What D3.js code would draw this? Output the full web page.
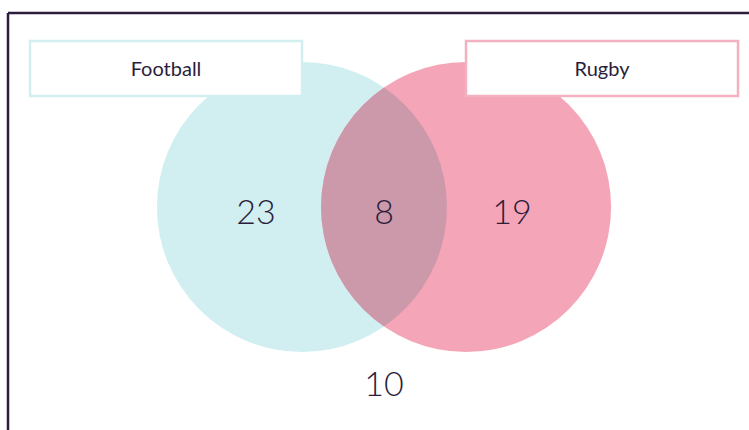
<!DOCTYPE html>
<html lang="en">
<head>
  <meta charset="utf-8">
  <title>Venn Diagram</title>
  <style>
    body { margin: 0; background: #fff; }
    svg { display: block; }
    text { font-family: 'Lato', 'Open Sans', sans-serif; fill: #2b1d3b; }
  </style>
</head>
<body>
  <div id="chart"></div>
  <script src="https://d3js.org/d3.v7.min.js"></script>
  <script>
    // Data
    var setNames = ["Football", "Rugby"];
    var setColors = ["#d1eff0", "#f4a5b7"];
    var boxColors = ["#d2eff0", "#f3b2c1"];
    var regionNames = ["Football only", "Both", "Rugby only", "Neither"];
    var regionCounts = [23, 8, 19, 10];
    var overlapColor = "#cc99aa";

    var width = 749, height = 430;

    var svg = d3.select("#chart").append("svg")
      .attr("width", width)
      .attr("height", height);

    // venn units: circle radius 1, centres at -0.566 / +0.566
    var x = d3.scaleLinear().domain([-1, 1]).range([239, 529]);
    var y = d3.scaleLinear().domain([-1, 1]).range([62, 352]);
    var r = x(1) - x(0);
    var centres = [-0.566, 0.566];

    // frame (top and left edges only)
    svg.append("line").attr("x1", 8).attr("x2", width).attr("y1", 13).attr("y2", 13)
      .attr("stroke", "#2b1d3b").attr("stroke-width", 2.5);
    svg.append("line").attr("x1", 8).attr("x2", 8).attr("y1", 13).attr("y2", height)
      .attr("stroke", "#2b1d3b").attr("stroke-width", 2.5);

    svg.append("defs").append("clipPath").attr("id", "clipA")
      .append("circle").attr("cx", x(centres[0])).attr("cy", y(0)).attr("r", r);

    svg.selectAll("circle.set")
      .data(setNames)
      .join("circle")
      .attr("class", "set")
      .attr("cx", (d, i) => x(centres[i]))
      .attr("cy", y(0))
      .attr("r", r)
      .attr("fill", (d, i) => setColors[i]);

    // intersection
    svg.append("circle")
      .attr("cx", x(centres[1]))
      .attr("cy", y(0))
      .attr("r", r)
      .attr("clip-path", "url(#clipA)")
      .attr("fill", overlapColor);

    // label boxes
    var boxW = 272, boxH = 55;
    var boxX = [30, 466];
    var box = svg.selectAll("g.label")
      .data(setNames)
      .join("g")
      .attr("class", "label")
      .attr("transform", (d, i) => "translate(" + boxX[i] + ",41)");
    box.append("rect")
      .attr("width", boxW).attr("height", boxH)
      .attr("fill", "#fff")
      .attr("stroke", (d, i) => boxColors[i])
      .attr("stroke-width", 2.5);
    box.append("text")
      .attr("x", boxW / 2).attr("y", boxH / 2)
      .attr("dy", "0.35em")
      .attr("text-anchor", "middle")
      .style("font-size", "20px")
      .text(d => d);

    // region counts
    var regionPos = [[x(-0.883), y(0.035)], [x(0), y(0.035)], [x(0.883), y(0.035)], [x(0), y(1.22)]];
    svg.selectAll("text.count")
      .data(regionCounts)
      .join("text")
      .attr("class", "count")
      .attr("x", (d, i) => regionPos[i][0])
      .attr("y", (d, i) => regionPos[i][1])
      .attr("dy", "0.35em")
      .attr("text-anchor", "middle")
      .style("font-size", "34px")
      .style("font-weight", 300)
      .text(d => d);
  </script>
</body>
</html>
